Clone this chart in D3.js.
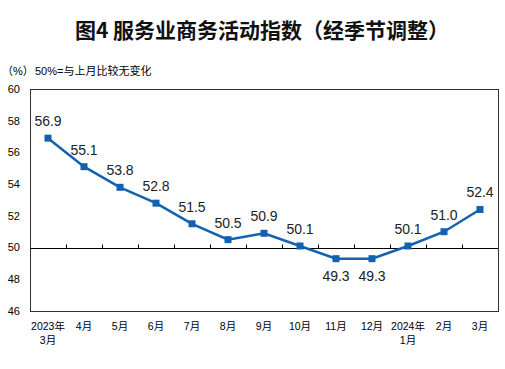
<!DOCTYPE html>
<html>
<head>
  <meta charset="UTF-8">
  <title>服务业商务活动指数</title>
  <style>
    body { margin: 0; background: #fff; }
    svg { display: block; }
    .title { font-family: "Noto Sans CJK SC", sans-serif; font-size: 21px; font-weight: bold; fill: #111; }
    .note { font-family: "Liberation Sans", "Noto Sans CJK SC", sans-serif; font-size: 11px; fill: #000; }
    .ylab { font-family: "Liberation Sans", sans-serif; font-size: 11px; fill: #000; }
    .xlab { font-family: "Liberation Sans", "Noto Sans CJK SC", sans-serif; font-size: 10.5px; fill: #000; }
    .vlab { font-family: "Liberation Sans", sans-serif; font-size: 14px; fill: #222; }
  </style>
</head>
<body>
<svg id="chart" width="505" height="369"></svg>

<script src="https://d3js.org/d3.v7.min.js"></script>
<script>
  // data
  const months = ["2023年|3月", "4月", "5月", "6月", "7月", "8月", "9月", "10月", "11月", "12月", "2024年|1月", "2月", "3月"];
  const values = [56.9, 55.1, 53.8, 52.8, 51.5, 50.5, 50.9, 50.1, 49.3, 49.3, 50.1, 51.0, 52.4];
  const yTicks = [46, 48, 50, 52, 54, 56, 58, 60];

  const svg = d3.select("#chart");
  const plotL = 30, plotR = 498, plotT = 89, plotB = 311;

  // title and note
  svg.append("text").attr("class", "title")
    .attr("x", 262).attr("y", 38).attr("text-anchor", "middle")
    .attr("xml:space", "preserve")
    .text("图4 服务业商务活动指数（经季节调整）");
  svg.append("text").attr("class", "note")
    .attr("x", 2).attr("y", 75).text("（%）");
  svg.append("text").attr("class", "note")
    .attr("x", 35).attr("y", 75).text("50%=与上月比较无变化");

  let x = d3.scaleBand().domain(months).range([plotL, plotR]);
  let y = d3.scaleLinear().domain([46, 60]).range([plotB, plotT]);

  // plot frame
  svg.append("rect")
    .attr("x", plotL + 0.5).attr("y", plotT + 0.5)
    .attr("width", plotR - plotL).attr("height", plotB - plotT)
    .attr("fill", "none").attr("stroke", "#333").attr("stroke-width", 1);

  // y labels (no tick marks)
  svg.append("g").selectAll("text")
    .data(yTicks).join("text")
    .attr("class", "ylab")
    .attr("x", 20).attr("y", d => y(d))
    .attr("dy", "0.35em").attr("text-anchor", "end")
    .text(d => d);

  // 50 line with upward ticks between months
  let axis50 = svg.append("g")
    .attr("transform", "translate(0," + (Math.round(y(50)) + 0.5) + ")");
  axis50.append("line")
    .attr("x1", plotL).attr("x2", plotR)
    .attr("stroke", "#000").attr("stroke-width", 1);
  axis50.selectAll(".tk")
    .data(months.slice(1)).join("line")
    .attr("class", "tk")
    .attr("x1", d => Math.round(x(d)) + 0.5).attr("x2", d => Math.round(x(d)) + 0.5)
    .attr("y1", 0).attr("y2", -4)
    .attr("stroke", "#000");

  // x labels
  let xl = svg.append("g").selectAll("text")
    .data(months).join("text")
    .attr("class", "xlab")
    .attr("text-anchor", "middle")
    .attr("x", d => x(d) + x.bandwidth() / 2)
    .attr("y", 330);
  xl.each(function(d) {
    let parts = d.split("|");
    let t = d3.select(this);
    parts.forEach((p, i) => {
      t.append("tspan")
        .attr("x", x(d) + x.bandwidth() / 2)
        .attr("dy", i === 0 ? 0 : 14)
        .text(p);
    });
  });

  // line
  const cx = (d, i) => x(months[i]) + x.bandwidth() / 2;
  let line = d3.line()
    .x((d, i) => cx(d, i))
    .y(d => y(d));
  svg.append("path")
    .datum(values)
    .attr("d", line)
    .attr("fill", "none")
    .attr("stroke", "#1461b0")
    .attr("stroke-width", 2.5);

  // square markers
  svg.append("g").selectAll("rect")
    .data(values).join("rect")
    .attr("x", (d, i) => cx(d, i) - 3.5)
    .attr("y", d => y(d) - 3.5)
    .attr("width", 7).attr("height", 7)
    .attr("fill", "#1461b0");

  // value labels, below for points under 50
  svg.append("g").selectAll("text")
    .data(values).join("text")
    .attr("class", "vlab")
    .attr("text-anchor", "middle")
    .attr("x", (d, i) => cx(d, i))
    .attr("y", d => d < 50 ? y(d) + 17 : y(d) - 17)
    .attr("dy", "0.35em")
    .text(d => d.toFixed(1));
</script>
</body>
</html>
